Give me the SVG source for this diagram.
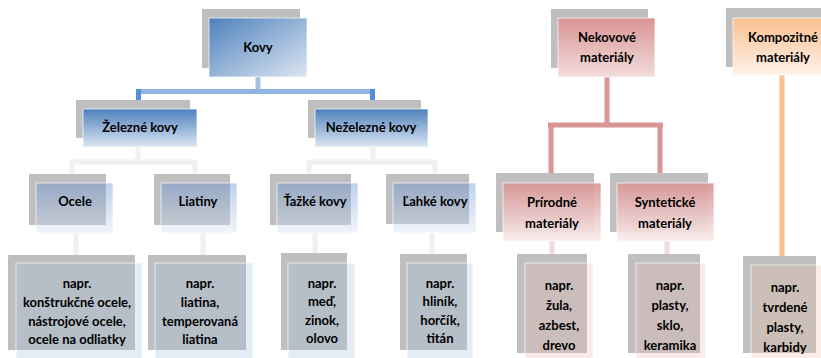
<svg xmlns="http://www.w3.org/2000/svg" width="821" height="358" viewBox="0 0 821 358">
<style>
text{font-family:"Lato","Liberation Sans",Arial,sans-serif;font-weight:bold;font-size:13px;fill:#000;text-anchor:middle}
.sh{fill:#BFBFBF}
.bx{stroke:#fff;stroke-opacity:.7;stroke-width:1}
.c{fill:none;stroke-width:5;stroke-linecap:butt}
</style>
<defs>
<linearGradient id="gB1" x1="0" y1="0" x2="1" y2="1"><stop offset="0" stop-color="#4F81BD"/><stop offset="1" stop-color="#DCE6F2"/></linearGradient>
<linearGradient id="gB2" x1="0" y1="0" x2="0" y2="1"><stop offset="0" stop-color="#4F81BD"/><stop offset="1" stop-color="#DCE6F2"/></linearGradient>
<linearGradient id="gB3" x1="0" y1="0" x2="0" y2="1"><stop offset="0" stop-color="#5A8AD0" stop-opacity=".4"/><stop offset="1" stop-color="#DCE6F2" stop-opacity=".4"/></linearGradient>
<linearGradient id="gP1" x1="0" y1="0" x2="0" y2="1"><stop offset="0" stop-color="#D99594"/><stop offset="1" stop-color="#F2DCDB"/></linearGradient>
<linearGradient id="gP2" x1="0" y1="0" x2="0" y2="1"><stop offset="0" stop-color="#D99594"/><stop offset="1" stop-color="#FAEDED"/></linearGradient>
<linearGradient id="gO1" x1="0" y1="0" x2="0" y2="1"><stop offset="0" stop-color="#FAC090"/><stop offset="1" stop-color="#FEF2E8"/></linearGradient>
</defs>

<g id="connectors">
<path class="c" stroke="#A6BFE0" d="M258 77V91"/>
<path class="c" stroke="#8DB4E2" d="M136 91.5H375"/>
<path class="c" stroke="#558ED5" d="M138.5 89V100M372.5 89V100"/>
<path class="c" stroke="#F0F0F0" d="M138 147V162M70 162H197M72 162V174M195 162V174M373 147V162M307 162H437M309 162V174M435 162V174"/>
<path class="c" stroke="#F0F0F0" d="M76 233V255M203 233V255M315 233V254M432 233V254"/>
<path class="c" stroke="#D99594" d="M607 77V125M548 125H663M551 125V173M660 125V173"/>
<path class="c" stroke="#F2DCDB" d="M552 241V254M667 241V254"/>
<path class="c" stroke="#FAC090" d="M782 75V256"/>
</g>

<g id="kovy"><rect class="sh" x="202" y="9" width="98" height="59"/><rect class="bx" x="209" y="18" width="98" height="59" fill="url(#gB1)"/><text x="258" y="52">Kovy</text></g>
<g id="zelezne"><rect class="sh" x="76" y="100" width="114" height="38"/><rect class="bx" x="83" y="109" width="114" height="38" fill="url(#gB2)"/><text x="140" y="132">Železné kovy</text></g>
<g id="nezelezne"><rect class="sh" x="308" y="100" width="113" height="38"/><rect class="bx" x="315" y="109" width="113" height="38" fill="url(#gB2)"/><text x="371" y="132">Neželezné kovy</text></g>

<g id="ocele"><rect class="sh" x="29" y="174" width="77" height="51"/><rect class="bx" x="36" y="183" width="77" height="50" fill="url(#gB3)"/><text x="75" y="206">Ocele</text></g>
<g id="liatiny"><rect class="sh" x="154" y="174" width="76" height="51"/><rect class="bx" x="161" y="183" width="76" height="50" fill="url(#gB3)"/><text x="198" y="206">Liatiny</text></g>
<g id="tazke"><rect class="sh" x="270" y="174" width="81" height="51"/><rect class="bx" x="277" y="183" width="81" height="50" fill="url(#gB3)"/><text x="315" y="206">Ťažké kovy</text></g>
<g id="lahke"><rect class="sh" x="386" y="174" width="83" height="50"/><rect class="bx" x="393" y="183" width="83" height="50" fill="url(#gB3)"/><text x="435" y="206">Ľahké kovy</text></g>

<g id="leaf-ocele"><rect class="sh" x="8" y="255" width="127" height="95"/><rect class="bx" x="16" y="263" width="126" height="100" fill="#9DBCE0" fill-opacity=".28"/>
<text x="77" y="288">napr.</text><text x="77" y="307">konštrukčné ocele,</text><text x="77" y="326">nástrojové ocele,</text><text x="77" y="344">ocele na odliatky</text></g>
<g id="leaf-liatiny"><rect class="sh" x="148" y="255" width="98" height="95"/><rect class="bx" x="155" y="263" width="98" height="100" fill="#9DBCE0" fill-opacity=".28"/>
<text x="200" y="288">napr.</text><text x="200" y="307">liatina,</text><text x="200" y="326">temperovaná</text><text x="200" y="344">liatina</text></g>
<g id="leaf-tazke"><rect class="sh" x="281" y="253" width="66" height="97"/><rect class="bx" x="288" y="263" width="67" height="100" fill="#9DBCE0" fill-opacity=".28"/>
<text x="322" y="288">napr.</text><text x="322" y="306">meď,</text><text x="322" y="325">zinok,</text><text x="322" y="343">olovo</text></g>
<g id="leaf-lahke"><rect class="sh" x="400" y="254" width="67" height="96"/><rect class="bx" x="407" y="263" width="66" height="100" fill="#9DBCE0" fill-opacity=".28"/>
<text x="440" y="288">napr.</text><text x="440" y="306">hliník,</text><text x="440" y="325">horčík,</text><text x="440" y="343">titán</text></g>

<g id="nekovove"><rect class="sh" x="551" y="9" width="97" height="59"/><rect class="bx" x="558" y="18" width="97" height="59" fill="url(#gP1)"/><text x="607" y="42">Nekovové</text><text x="607" y="62">materiály</text></g>
<g id="prirodne"><rect class="sh" x="496" y="173" width="98" height="59"/><rect class="bx" x="503" y="183" width="98" height="58" fill="url(#gP2)" fill-opacity=".92"/><text x="552" y="207">Prírodné</text><text x="552" y="228">materiály</text></g>
<g id="synteticke"><rect class="sh" x="610" y="173" width="98" height="59"/><rect class="bx" x="617" y="183" width="97" height="58" fill="url(#gP2)" fill-opacity=".92"/><text x="665" y="207">Syntetické</text><text x="665" y="228">materiály</text></g>
<g id="leaf-prirodne"><rect class="sh" x="517" y="254" width="70" height="99"/><rect class="bx" x="525" y="263" width="68" height="100" fill="#EDB8B2" fill-opacity=".27"/>
<text x="559" y="290">napr.</text><text x="559" y="310">žula,</text><text x="559" y="330">azbest,</text><text x="559" y="350">drevo</text></g>
<g id="leaf-synteticke"><rect class="sh" x="628" y="254" width="72" height="99"/><rect class="bx" x="636" y="263" width="70" height="100" fill="#EDB8B2" fill-opacity=".27"/>
<text x="670" y="290">napr.</text><text x="670" y="310">plasty,</text><text x="670" y="330">sklo,</text><text x="670" y="350">keramika</text></g>

<g id="kompozitne"><rect class="sh" x="726" y="8" width="97" height="59"/><rect class="bx" x="733" y="18" width="95" height="57" fill="url(#gO1)"/><text x="783" y="42">Kompozitné</text><text x="783" y="62">materiály</text></g>
<g id="leaf-kompozitne"><rect class="sh" x="743" y="256" width="73" height="97"/><rect class="bx" x="751" y="265" width="72" height="100" fill="#F0C0A8" fill-opacity=".27"/>
<text x="785" y="292">napr.</text><text x="785" y="312">tvrdené</text><text x="785" y="332">plasty,</text><text x="785" y="352">karbidy</text></g>
</svg>
